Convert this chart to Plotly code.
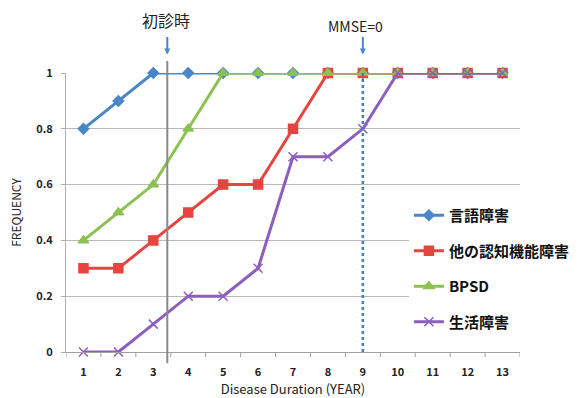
import plotly.graph_objects as go

# Disease duration in years (categories on the x axis)
years = list(range(1, 14))
year_labels = [str(y) for y in years]

# Cumulative frequency of each symptom group
gengo = [0.8, 0.9, 1, 1, 1, 1, 1, 1, 1, 1, 1, 1, 1]
ninchi = [0.3, 0.3, 0.4, 0.5, 0.6, 0.6, 0.8, 1, 1, 1, 1, 1, 1]
bpsd = [0.4, 0.5, 0.6, 0.8, 1, 1, 1, 1, 1, 1, 1, 1, 1]
seikatsu = [0, 0, 0.1, 0.2, 0.2, 0.3, 0.7, 0.7, 0.8, 1, 1, 1, 1]

y_ticks = [0, 0.2, 0.4, 0.6, 0.8, 1]
y_tick_labels = ["0", "0.2", "0.4", "0.6", "0.8", "1"]

# Reference events
first_visit_x = 3.4
mmse_zero_x = 9

FONT = "Noto Sans CJK JP, Noto Sans, sans-serif"

series = [
    ("言語障害", gengo, "#4A86C8", "diamond", 8),
    ("他の認知機能障害", ninchi, "#E5443F", "square", 9),
    ("BPSD", bpsd, "#8CC152", "triangle-up", 9),
    ("生活障害", seikatsu, "#8C5FBE", "x-thin-open", 9),
]

fig = go.Figure()
for i, (name, vals, color, sym, size) in enumerate(series):
    fig.add_trace(go.Scatter(
        x=years, y=vals, name=name, mode="lines+markers", legendgroup=f"g{i}",
        line=dict(color=color, width=3),
        marker=dict(symbol=sym, size=size, color=color,
                    line=dict(color=color, width=1.5)),
        cliponaxis=False,
    ))

# Vertical marker lines
fig.add_shape(type="line", xref="x", yref="paper",
              x0=first_visit_x, x1=first_visit_x, y0=-0.04, y1=1.043,
              line=dict(color="#8a8a8a", width=2))
fig.add_shape(type="line", xref="x", yref="paper",
              x0=mmse_zero_x, x1=mmse_zero_x, y0=0, y1=1.01,
              line=dict(color="#3D7FCC", width=2.5, dash="dot"))

# Labels and small arrows above the plot
for xv, label, fs, ty in [(first_visit_x - 0.05, "初診時", 16, 1.19),
                          (mmse_zero_x - 0.2, "MMSE=0", 14, 1.17)]:
    fig.add_annotation(x=xv, y=ty, xref="x", yref="paper", text=label,
                       yanchor="middle", showarrow=False,
                       font=dict(size=fs, color="#222", family=FONT))
for xv in [first_visit_x, mmse_zero_x]:
    fig.add_annotation(x=xv, y=1.066, xref="x", yref="paper", text="",
                       ax=0, ay=-19, axref="pixel", ayref="pixel",
                       showarrow=True, arrowhead=2, arrowsize=0.6,
                       arrowwidth=2, arrowcolor="#4A86C8")

fig.update_layout(
    width=580, height=398,
    margin=dict(l=66, r=60, t=73, b=46, autoexpand=False),
    paper_bgcolor="white", plot_bgcolor="white",
    font=dict(family=FONT, color="#222"),
    showlegend=True,
    legend=dict(xref="container", yref="container",
                x=0.705, y=0.5, xanchor="left", yanchor="top",
                bgcolor="white",
                font=dict(size=15, family=FONT, color="#111", weight="bold"),
                tracegroupgap=13, itemwidth=30, traceorder="grouped"),
    xaxis=dict(
        range=[0.5, 13.5], tickmode="array", tickvals=years, ticktext=year_labels,
        showgrid=False, showline=True, linecolor="#a0a0a0", linewidth=1,
        ticks="", ticklabelstandoff=10,
        tickfont=dict(size=11, color="#222", weight=600),
        title=dict(text="Disease Duration (YEAR)", font=dict(size=13, color="#222"), standoff=4),
        zeroline=False,
    ),
    yaxis=dict(
        range=[0, 1], tickmode="array", tickvals=y_ticks, ticktext=y_tick_labels,
        showgrid=True, gridcolor="#b8b8b8", gridwidth=1,
        showline=True, linecolor="#b0b0b0", linewidth=1,
        ticks="outside", ticklen=4, tickcolor="#b0b0b0", ticklabelstandoff=6,
        tickfont=dict(size=11, color="#222", weight=600),
        title=dict(text="FREQUENCY", font=dict(size=12, color="#222"), standoff=12),
        zeroline=False,
    ),
)

# Category boundary ticks along the x axis
for b in [v + 0.5 for v in [0] + years]:
    fig.add_shape(type="line", xref="x", yref="paper", x0=b, x1=b,
                  y0=0, y1=-0.018, line=dict(color="#a0a0a0", width=1))

fig.write_html("out.html")
